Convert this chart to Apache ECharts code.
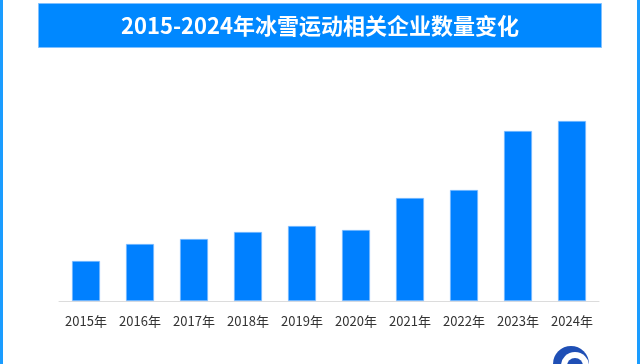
<!DOCTYPE html>
<html><head><meta charset="utf-8">
<script src="https://cdn.jsdelivr.net/npm/echarts@6/dist/echarts.min.js"></script>
<style>html,body{margin:0;padding:0;background:#fff}#c{width:640px;height:364px}</style>
</head><body><div id="c"></div>
<script>
const titleText = '2015-2024年冰雪运动相关企业数量变化';
const categories = ['2015年','2016年','2017年','2018年','2019年','2020年','2021年','2022年','2023年','2024年'];
const values = [40, 57, 62, 69, 75, 71, 103, 111, 170, 180];

const chart = echarts.init(document.getElementById('c'), null, {renderer:'canvas'});
chart.setOption({
  animation:false,
  backgroundColor:'#fff',
  grid:{left:59, right:41, top:101, bottom:63},
  xAxis:{type:'category', data:categories,
    axisLine:{lineStyle:{color:'#dcdcdc', width:1}},
    axisTick:{show:false},
    axisLabel:{interval:0, color:'#333', fontSize:13, margin:14, fontFamily:'"Noto Sans CJK SC", sans-serif'}},
  yAxis:{type:'value', min:0, max:200, show:false, splitLine:{show:false}},
  series:[{type:'bar', data:values, barWidth:28,
    itemStyle:{color:'#0080ff', borderColor:'#9cc9ff', borderWidth:0.6}}],
  graphic:[
    {type:'rect', left:0, top:0, shape:{width:3, height:364}, style:{fill:'#1a9cff'}},
    {type:'rect', left:637, top:0, shape:{width:3, height:364}, style:{fill:'#1a9cff'}},
    {type:'rect', left:38, top:3, shape:{width:563, height:44}, style:{fill:'#0088ff', stroke:'#7fc0ff', lineWidth:1}},
    {type:'text', left:'center', top:15, style:{text:titleText, fill:'#fff', font:'bold 22px "Noto Sans CJK SC", sans-serif'}},
    {type:'circle', left:553, top:346, shape:{r:18}, style:{fill:'#1f4fb5'}},
    {type:'circle', left:561, top:352, shape:{r:14}, style:{fill:'#fff'}},
    {type:'circle', left:567, top:358, shape:{r:8}, style:{fill:'#1f4fb5'}}
  ]
});
</script></body></html>
